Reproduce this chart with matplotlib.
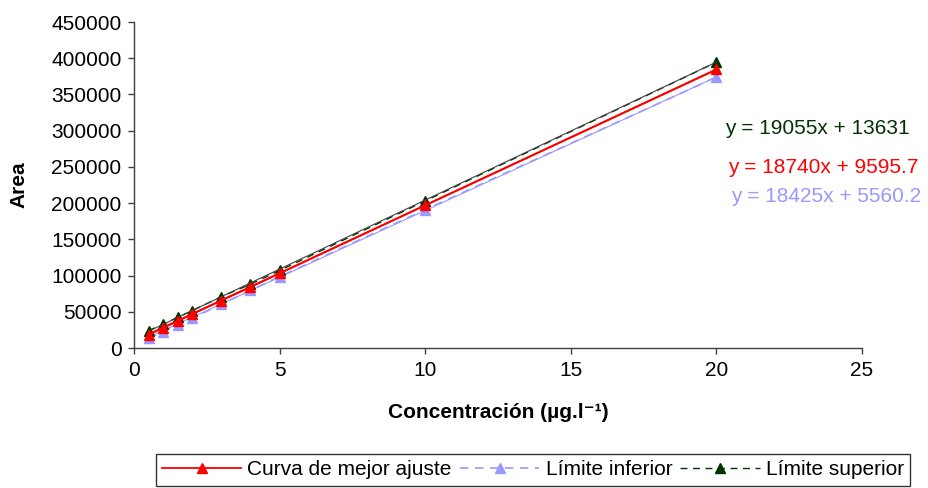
import matplotlib
matplotlib.use("Agg")
import matplotlib.pyplot as plt
import numpy as np

plt.rcParams["font.family"] = ["Liberation Sans", "DejaVu Sans"]

# concentraciones de los patrones (ug/l)
conc = [0.5, 1, 1.5, 2, 3, 4, 5, 10, 20]

# areas leidas para cada curva
area_ajuste = [18500, 27500, 37000, 46500, 65500, 84000, 103000, 197000, 384500]
area_inferior = [13500, 22500, 32000, 41000, 60500, 79500, 98500, 191000, 374000]
area_superior = [24000, 32500, 42500, 51500, 71000, 88000, 107000, 203000, 394500]

# ecuaciones de las lineas de tendencia (pendiente, ordenada)
eq_ajuste = (18740, 9595.7)
eq_inferior = (18425, 5560.2)
eq_superior = (19055, 13631)

rojo = "#ff0000"
lila = "#9999ff"
verde = "#003300"
fs = 15

fig = plt.figure(figsize=(9.29, 4.88), dpi=100)
ax = fig.add_axes([134 / 929, 1 - 348 / 488, (862 - 134) / 929, (348 - 22) / 488])

# series con marcadores
ax.plot(conc, area_ajuste, color=rojo, lw=1.3, marker="^", ms=7,
        label="Curva de mejor ajuste", zorder=5)
ax.plot(conc, area_inferior, color=lila, lw=1.2, ls=(0, (5, 4)), marker="^", ms=7,
        label="Límite inferior", zorder=3)
ax.plot(conc, area_superior, color=verde, lw=1.0, ls=(0, (5, 4)), marker="^", ms=7,
        label="Límite superior", zorder=4)

# lineas de tendencia
xt = np.array([conc[0], conc[-1]])
ax.plot(xt, eq_ajuste[0] * xt + eq_ajuste[1], color=rojo, lw=1.3, zorder=5)
ax.plot(xt, eq_inferior[0] * xt + eq_inferior[1], color=lila, lw=0.8, zorder=3)
ax.plot(xt, eq_superior[0] * xt + eq_superior[1], color="#404040", lw=0.8, zorder=4)

ax.set_xlim(0, 25)
ax.set_ylim(0, 450000)
ax.set_xticks(range(0, 30, 5))
ax.set_yticks(range(0, 450001, 50000))

for s in ["top", "right"]:
    ax.spines[s].set_visible(False)
for s in ["left", "bottom"]:
    ax.spines[s].set_color("#404040")
    ax.spines[s].set_linewidth(1)
ax.tick_params(direction="out", length=4, width=1, color="#404040",
               labelsize=fs, pad=5)

ax.set_xlabel("Concentración (µg.l\u207b\u00b9)", fontsize=fs,
              fontweight="bold", labelpad=17)
ax.set_ylabel("Area", fontsize=fs, fontweight="bold", labelpad=16)

# etiquetas de las ecuaciones
def texto_eq(eq):
    return "y = %gx + %g" % eq

fig.text(725 / 929, 1 - 128 / 488, texto_eq(eq_superior), color=verde,
         fontsize=fs, va="center", ha="left")
fig.text(728 / 929, 1 - 168 / 488, texto_eq(eq_ajuste), color=rojo,
         fontsize=fs, va="center", ha="left")
fig.text(731 / 929, 1 - 196 / 488, texto_eq(eq_inferior), color=lila,
         fontsize=fs, va="center", ha="left")

leg = fig.legend(loc="upper center", bbox_to_anchor=(533 / 929, 1 - 454 / 488),
                 ncol=3, fontsize=fs, frameon=True, fancybox=False,
                 edgecolor="black", handlelength=3.8, handletextpad=0.3,
                 columnspacing=0.4, borderpad=0.3, borderaxespad=0)
leg.get_frame().set_linewidth(1)

fig.savefig("out.png", dpi=100)
